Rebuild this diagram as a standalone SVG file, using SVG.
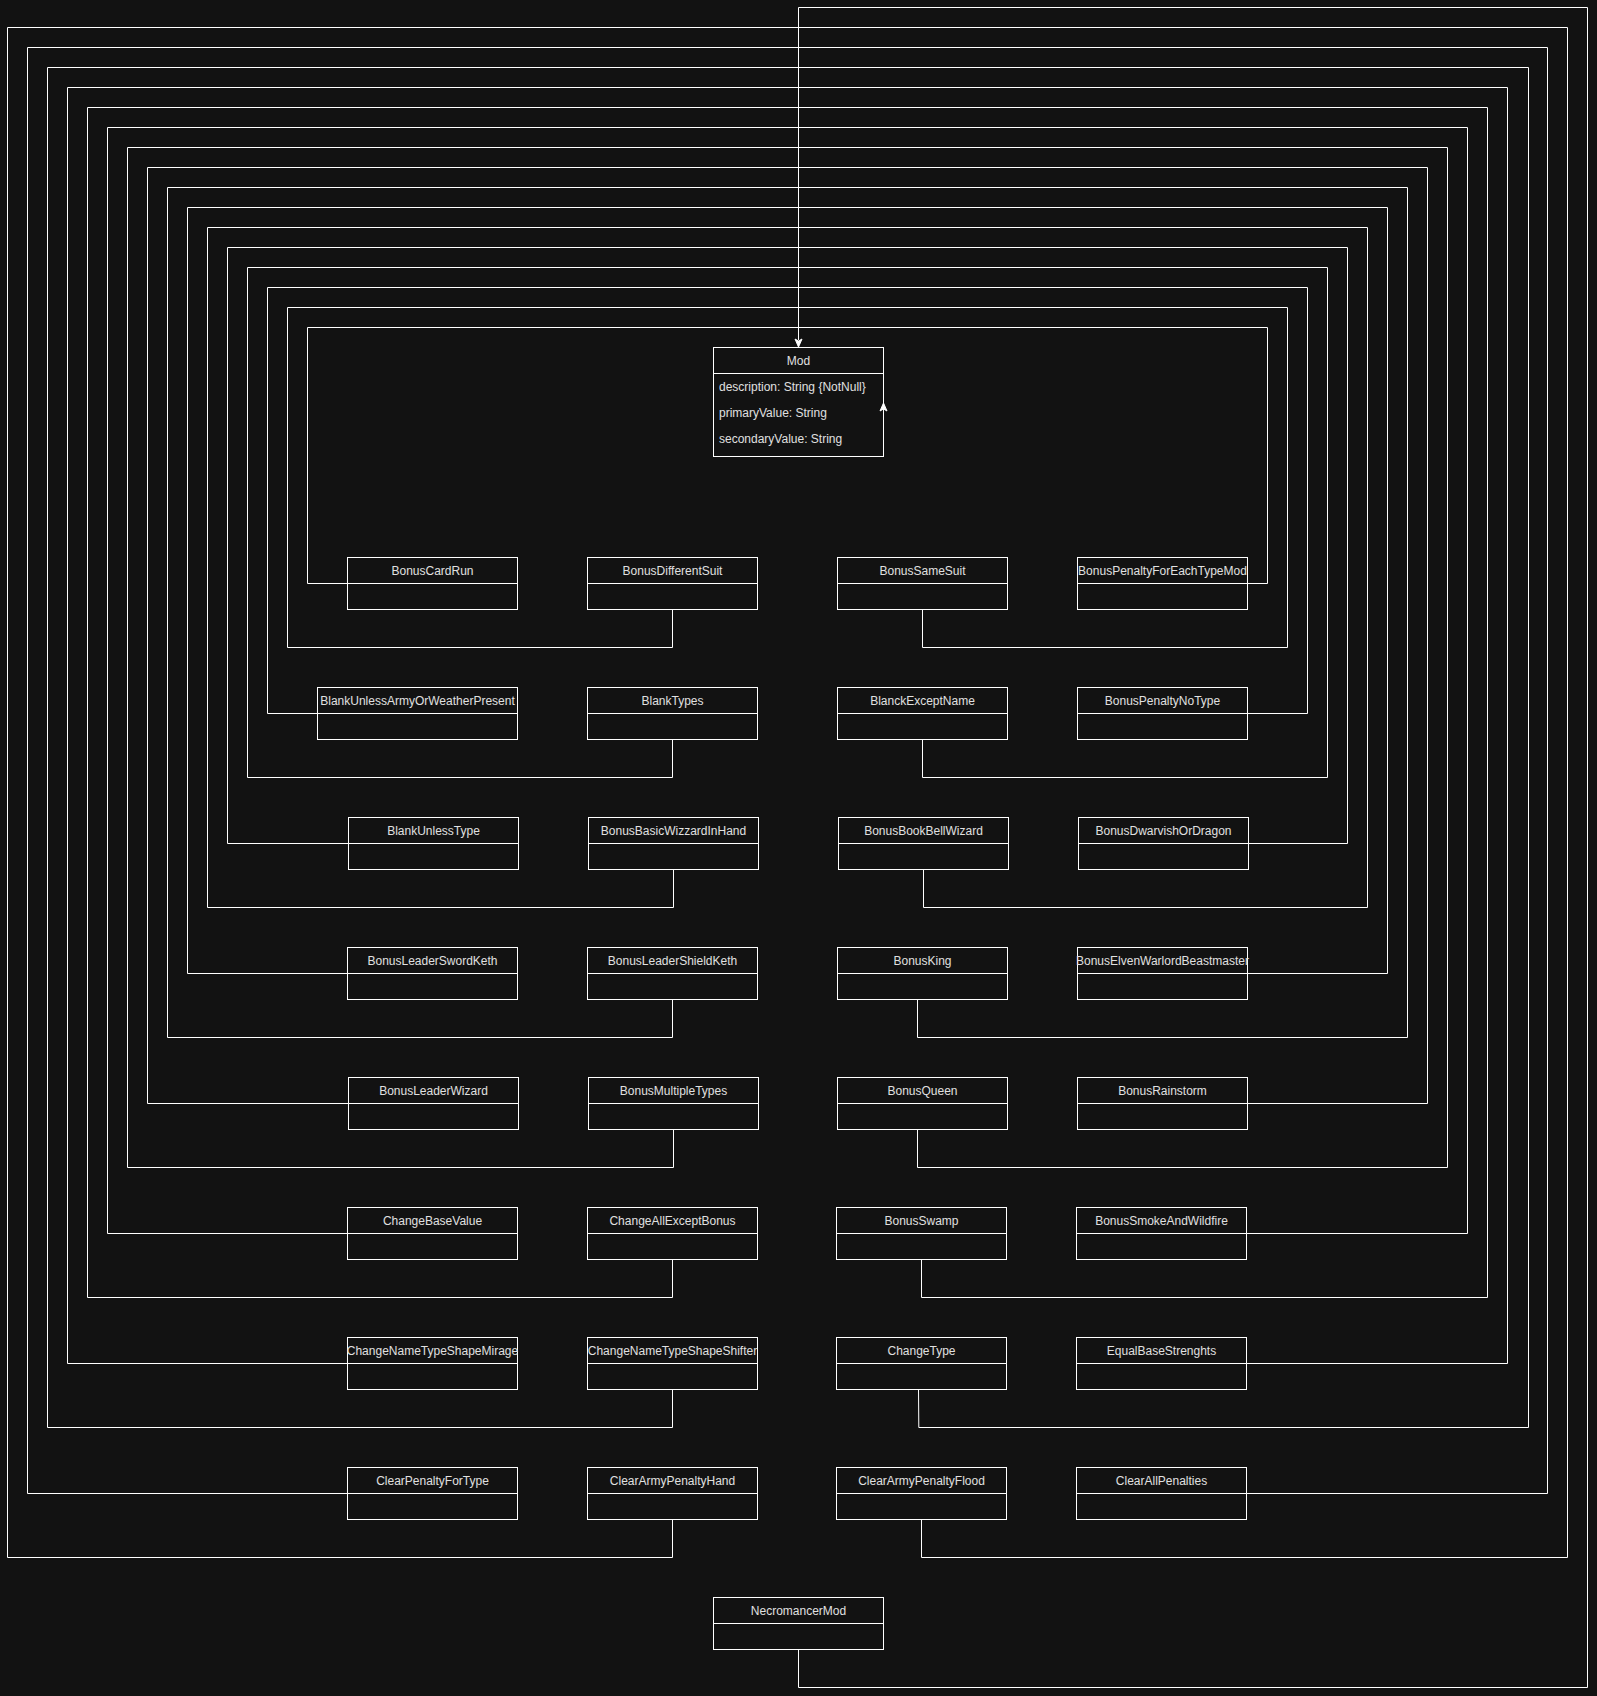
<svg xmlns="http://www.w3.org/2000/svg" width="1597" height="1696" viewBox="0 0 1597 1696">
<style>
.bg{fill:#121212}
.box{fill:none;stroke:#ffffff;stroke-width:1}
.e{fill:none;stroke:#ffffff;stroke-width:1}
.t{font-family:"Liberation Sans",Arial,Helvetica,sans-serif;font-size:12px;fill:#e0e0e0;text-anchor:middle}
.a{font-family:"Liberation Sans",Arial,Helvetica,sans-serif;font-size:12px;fill:#e0e0e0;text-anchor:start}
.ah{fill:#ffffff;stroke:#ffffff;stroke-width:1}
</style>
<rect class="bg" x="0" y="0" width="1597" height="1696"/>
<g id="connectors">
<path class="e" d="M347.5 583.5H307.5V327.5H798.5V340"/>
<path class="e" d="M672.5 609.5V647.5H287.5V307.5H798.5V340"/>
<path class="e" d="M922.5 609.5V647.5H1287.5V307.5H798.5V340"/>
<path class="e" d="M1247.5 583.5H1267.5V327.5H798.5V340"/>
<path class="e" d="M317.5 713.5H267.5V287.5H798.5V340"/>
<path class="e" d="M672.5 739.5V777.5H247.5V267.5H798.5V340"/>
<path class="e" d="M922.5 739.5V777.5H1327.5V267.5H798.5V340"/>
<path class="e" d="M1247.5 713.5H1307.5V287.5H798.5V340"/>
<path class="e" d="M348.5 843.5H227.5V247.5H798.5V340"/>
<path class="e" d="M673.5 869.5V907.5H207.5V227.5H798.5V340"/>
<path class="e" d="M923.5 869.5V907.5H1367.5V227.5H798.5V340"/>
<path class="e" d="M1248.5 843.5H1347.5V247.5H798.5V340"/>
<path class="e" d="M347.5 973.5H187.5V207.5H798.5V340"/>
<path class="e" d="M672.5 999.5V1037.5H167.5V187.5H798.5V340"/>
<path class="e" d="M917.5 999.5V1037.5H1407.5V187.5H798.5V340"/>
<path class="e" d="M1247.5 973.5H1387.5V207.5H798.5V340"/>
<path class="e" d="M348.5 1103.5H147.5V167.5H798.5V340"/>
<path class="e" d="M673.5 1129.5V1167.5H127.5V147.5H798.5V340"/>
<path class="e" d="M917.5 1129.5V1167.5H1447.5V147.5H798.5V340"/>
<path class="e" d="M1247.5 1103.5H1427.5V167.5H798.5V340"/>
<path class="e" d="M347.5 1233.5H107.5V127.5H798.5V340"/>
<path class="e" d="M672.5 1259.5V1297.5H87.5V107.5H798.5V340"/>
<path class="e" d="M921.5 1259.5V1297.5H1487.5V107.5H798.5V340"/>
<path class="e" d="M1246.5 1233.5H1467.5V127.5H798.5V340"/>
<path class="e" d="M347.5 1363.5H67.5V87.5H798.5V340"/>
<path class="e" d="M672.5 1389.5V1427.5H47.5V67.5H798.5V340"/>
<path class="e" d="M918.5 1389.5L918.8 1427.5H1528.5V67.5H798.5V340"/>
<path class="e" d="M1246.5 1363.5H1507.5V87.5H798.5V340"/>
<path class="e" d="M347.5 1493.5H27.5V47.5H798.5V340"/>
<path class="e" d="M672.5 1519.5V1557.5H7.5V27.5H798.5V340"/>
<path class="e" d="M921.5 1519.5V1557.5H1567.5V27.5H798.5V340"/>
<path class="e" d="M1246.5 1493.5H1547.5V47.5H798.5V340"/>
<path class="e" d="M798.5 1649.5V1687.5H1587.5V7.5H798.5V340"/>
<path class="ah" d="M798.5 347L795 339L798.5 341L802 339Z"/>
<path class="ah" d="M883.5 403L880 411L883.5 409L887 411Z"/>
</g>
<g id="Mod">
<rect class="box" x="713.5" y="347.5" width="170" height="109"/>
<line class="e" x1="713.5" y1="373.5" x2="883.5" y2="373.5"/>
<text class="t" x="798.5" y="364.5">Mod</text>
<text class="a" x="719" y="391">description: String {NotNull}</text>
<text class="a" x="719" y="417">primaryValue: String</text>
<text class="a" x="719" y="443">secondaryValue: String</text>
</g>
<g id="BonusCardRun"><rect class="box" x="347.5" y="557.5" width="170" height="52"/><line class="e" x1="347.5" y1="583.5" x2="517.5" y2="583.5"/><text class="t" x="432.5" y="574.5">BonusCardRun</text></g>
<g id="BonusDifferentSuit"><rect class="box" x="587.5" y="557.5" width="170" height="52"/><line class="e" x1="587.5" y1="583.5" x2="757.5" y2="583.5"/><text class="t" x="672.5" y="574.5">BonusDifferentSuit</text></g>
<g id="BonusSameSuit"><rect class="box" x="837.5" y="557.5" width="170" height="52"/><line class="e" x1="837.5" y1="583.5" x2="1007.5" y2="583.5"/><text class="t" x="922.5" y="574.5">BonusSameSuit</text></g>
<g id="BonusPenaltyForEachTypeMod"><rect class="box" x="1077.5" y="557.5" width="170" height="52"/><line class="e" x1="1077.5" y1="583.5" x2="1247.5" y2="583.5"/><text class="t" x="1162.5" y="574.5">BonusPenaltyForEachTypeMod</text></g>
<g id="BlankUnlessArmyOrWeatherPresent"><rect class="box" x="317.5" y="687.5" width="200" height="52"/><line class="e" x1="317.5" y1="713.5" x2="517.5" y2="713.5"/><text class="t" x="417.5" y="704.5">BlankUnlessArmyOrWeatherPresent</text></g>
<g id="BlankTypes"><rect class="box" x="587.5" y="687.5" width="170" height="52"/><line class="e" x1="587.5" y1="713.5" x2="757.5" y2="713.5"/><text class="t" x="672.5" y="704.5">BlankTypes</text></g>
<g id="BlanckExceptName"><rect class="box" x="837.5" y="687.5" width="170" height="52"/><line class="e" x1="837.5" y1="713.5" x2="1007.5" y2="713.5"/><text class="t" x="922.5" y="704.5">BlanckExceptName</text></g>
<g id="BonusPenaltyNoType"><rect class="box" x="1077.5" y="687.5" width="170" height="52"/><line class="e" x1="1077.5" y1="713.5" x2="1247.5" y2="713.5"/><text class="t" x="1162.5" y="704.5">BonusPenaltyNoType</text></g>
<g id="BlankUnlessType"><rect class="box" x="348.5" y="817.5" width="170" height="52"/><line class="e" x1="348.5" y1="843.5" x2="518.5" y2="843.5"/><text class="t" x="433.5" y="834.5">BlankUnlessType</text></g>
<g id="BonusBasicWizzardInHand"><rect class="box" x="588.5" y="817.5" width="170" height="52"/><line class="e" x1="588.5" y1="843.5" x2="758.5" y2="843.5"/><text class="t" x="673.5" y="834.5">BonusBasicWizzardInHand</text></g>
<g id="BonusBookBellWizard"><rect class="box" x="838.5" y="817.5" width="170" height="52"/><line class="e" x1="838.5" y1="843.5" x2="1008.5" y2="843.5"/><text class="t" x="923.5" y="834.5">BonusBookBellWizard</text></g>
<g id="BonusDwarvishOrDragon"><rect class="box" x="1078.5" y="817.5" width="170" height="52"/><line class="e" x1="1078.5" y1="843.5" x2="1248.5" y2="843.5"/><text class="t" x="1163.5" y="834.5">BonusDwarvishOrDragon</text></g>
<g id="BonusLeaderSwordKeth"><rect class="box" x="347.5" y="947.5" width="170" height="52"/><line class="e" x1="347.5" y1="973.5" x2="517.5" y2="973.5"/><text class="t" x="432.5" y="964.5">BonusLeaderSwordKeth</text></g>
<g id="BonusLeaderShieldKeth"><rect class="box" x="587.5" y="947.5" width="170" height="52"/><line class="e" x1="587.5" y1="973.5" x2="757.5" y2="973.5"/><text class="t" x="672.5" y="964.5">BonusLeaderShieldKeth</text></g>
<g id="BonusKing"><rect class="box" x="837.5" y="947.5" width="170" height="52"/><line class="e" x1="837.5" y1="973.5" x2="1007.5" y2="973.5"/><text class="t" x="922.5" y="964.5">BonusKing</text></g>
<g id="BonusElvenWarlordBeastmaster"><rect class="box" x="1077.5" y="947.5" width="170" height="52"/><line class="e" x1="1077.5" y1="973.5" x2="1247.5" y2="973.5"/><text class="t" x="1162.5" y="964.5">BonusElvenWarlordBeastmaster</text></g>
<g id="BonusLeaderWizard"><rect class="box" x="348.5" y="1077.5" width="170" height="52"/><line class="e" x1="348.5" y1="1103.5" x2="518.5" y2="1103.5"/><text class="t" x="433.5" y="1094.5">BonusLeaderWizard</text></g>
<g id="BonusMultipleTypes"><rect class="box" x="588.5" y="1077.5" width="170" height="52"/><line class="e" x1="588.5" y1="1103.5" x2="758.5" y2="1103.5"/><text class="t" x="673.5" y="1094.5">BonusMultipleTypes</text></g>
<g id="BonusQueen"><rect class="box" x="837.5" y="1077.5" width="170" height="52"/><line class="e" x1="837.5" y1="1103.5" x2="1007.5" y2="1103.5"/><text class="t" x="922.5" y="1094.5">BonusQueen</text></g>
<g id="BonusRainstorm"><rect class="box" x="1077.5" y="1077.5" width="170" height="52"/><line class="e" x1="1077.5" y1="1103.5" x2="1247.5" y2="1103.5"/><text class="t" x="1162.5" y="1094.5">BonusRainstorm</text></g>
<g id="ChangeBaseValue"><rect class="box" x="347.5" y="1207.5" width="170" height="52"/><line class="e" x1="347.5" y1="1233.5" x2="517.5" y2="1233.5"/><text class="t" x="432.5" y="1224.5">ChangeBaseValue</text></g>
<g id="ChangeAllExceptBonus"><rect class="box" x="587.5" y="1207.5" width="170" height="52"/><line class="e" x1="587.5" y1="1233.5" x2="757.5" y2="1233.5"/><text class="t" x="672.5" y="1224.5">ChangeAllExceptBonus</text></g>
<g id="BonusSwamp"><rect class="box" x="836.5" y="1207.5" width="170" height="52"/><line class="e" x1="836.5" y1="1233.5" x2="1006.5" y2="1233.5"/><text class="t" x="921.5" y="1224.5">BonusSwamp</text></g>
<g id="BonusSmokeAndWildfire"><rect class="box" x="1076.5" y="1207.5" width="170" height="52"/><line class="e" x1="1076.5" y1="1233.5" x2="1246.5" y2="1233.5"/><text class="t" x="1161.5" y="1224.5">BonusSmokeAndWildfire</text></g>
<g id="ChangeNameTypeShapeMirage"><rect class="box" x="347.5" y="1337.5" width="170" height="52"/><line class="e" x1="347.5" y1="1363.5" x2="517.5" y2="1363.5"/><text class="t" x="432.5" y="1354.5">ChangeNameTypeShapeMirage</text></g>
<g id="ChangeNameTypeShapeShifter"><rect class="box" x="587.5" y="1337.5" width="170" height="52"/><line class="e" x1="587.5" y1="1363.5" x2="757.5" y2="1363.5"/><text class="t" x="672.5" y="1354.5">ChangeNameTypeShapeShifter</text></g>
<g id="ChangeType"><rect class="box" x="836.5" y="1337.5" width="170" height="52"/><line class="e" x1="836.5" y1="1363.5" x2="1006.5" y2="1363.5"/><text class="t" x="921.5" y="1354.5">ChangeType</text></g>
<g id="EqualBaseStrenghts"><rect class="box" x="1076.5" y="1337.5" width="170" height="52"/><line class="e" x1="1076.5" y1="1363.5" x2="1246.5" y2="1363.5"/><text class="t" x="1161.5" y="1354.5">EqualBaseStrenghts</text></g>
<g id="ClearPenaltyForType"><rect class="box" x="347.5" y="1467.5" width="170" height="52"/><line class="e" x1="347.5" y1="1493.5" x2="517.5" y2="1493.5"/><text class="t" x="432.5" y="1484.5">ClearPenaltyForType</text></g>
<g id="ClearArmyPenaltyHand"><rect class="box" x="587.5" y="1467.5" width="170" height="52"/><line class="e" x1="587.5" y1="1493.5" x2="757.5" y2="1493.5"/><text class="t" x="672.5" y="1484.5">ClearArmyPenaltyHand</text></g>
<g id="ClearArmyPenaltyFlood"><rect class="box" x="836.5" y="1467.5" width="170" height="52"/><line class="e" x1="836.5" y1="1493.5" x2="1006.5" y2="1493.5"/><text class="t" x="921.5" y="1484.5">ClearArmyPenaltyFlood</text></g>
<g id="ClearAllPenalties"><rect class="box" x="1076.5" y="1467.5" width="170" height="52"/><line class="e" x1="1076.5" y1="1493.5" x2="1246.5" y2="1493.5"/><text class="t" x="1161.5" y="1484.5">ClearAllPenalties</text></g>
<g id="NecromancerMod"><rect class="box" x="713.5" y="1597.5" width="170" height="52"/><line class="e" x1="713.5" y1="1623.5" x2="883.5" y2="1623.5"/><text class="t" x="798.5" y="1614.5">NecromancerMod</text></g>
</svg>
